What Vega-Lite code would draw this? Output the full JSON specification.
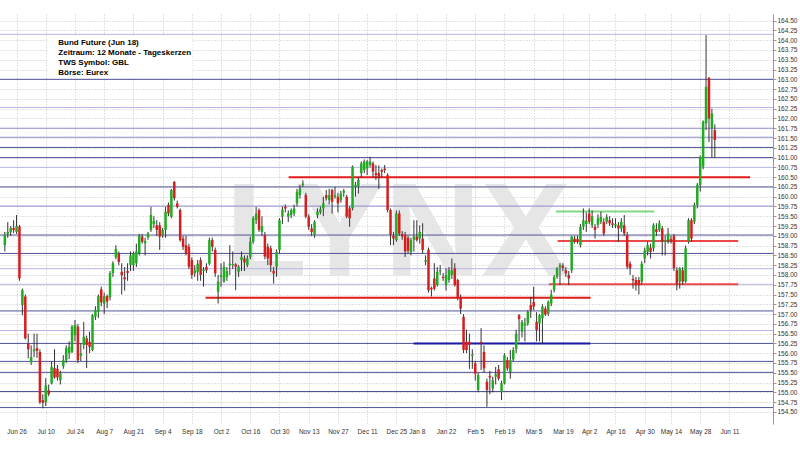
{
  "$schema": "https://vega.github.io/schema/vega-lite/v6.json",
  "usermeta": {"embedOptions": {"actions": false}},
  "autosize": {"type": "none"},
  "width": 773,
  "height": 410,
  "padding": {"left": 0, "top": 14, "right": 27, "bottom": 26},
  "background": "#ffffff",
  "config": {
    "view": {"stroke": null},
    "axis": {"labelFont": "Liberation Sans", "labelFontSize": 6.5, "labelColor": "#333333", "gridColor": "#c4c4c4", "gridDash": [1, 2], "gridWidth": 1, "title": null, "labelOverlap": false, "labelSeparation": 0}
  },
  "resolve": {"scale": {"color": "independent"}},
  "datasets": {
    "candles": [
      {"i":-4,"o":158.76,"h":159.1,"l":158.6,"c":159.02},
      {"i":-3,"o":159.05,"h":159.35,"l":158.95,"c":159.1},
      {"i":-2,"o":159.1,"h":159.25,"l":159.0,"c":159.2},
      {"i":-1,"o":159.2,"h":159.4,"l":159.07,"c":159.15},
      {"i":0,"o":159.1,"h":159.53,"l":159.05,"c":159.25},
      {"i":1,"o":159.24,"h":159.28,"l":157.85,"c":157.91},
      {"i":2,"o":157.23,"h":157.65,"l":156.97,"c":157.61},
      {"i":3,"o":157.45,"h":157.5,"l":156.35,"c":156.38},
      {"i":4,"o":156.25,"h":156.5,"l":155.87,"c":156.1},
      {"i":5,"o":155.77,"h":156.2,"l":155.7,"c":155.9},
      {"i":6,"o":156.05,"h":156.5,"l":155.9,"c":156.1},
      {"i":7,"o":156.13,"h":156.5,"l":155.88,"c":156.06},
      {"i":8,"o":156.03,"h":156.1,"l":154.7,"c":154.75},
      {"i":9,"o":154.8,"h":154.95,"l":154.59,"c":154.73},
      {"i":10,"o":154.75,"h":155.36,"l":154.65,"c":155.18},
      {"i":11,"o":155.05,"h":155.2,"l":154.9,"c":154.95},
      {"i":12,"o":155.23,"h":155.8,"l":155.2,"c":155.65},
      {"i":13,"o":155.62,"h":156.1,"l":155.35,"c":155.38},
      {"i":14,"o":155.6,"h":155.7,"l":155.3,"c":155.38},
      {"i":15,"o":155.31,"h":155.55,"l":155.2,"c":155.48},
      {"i":16,"o":155.67,"h":155.95,"l":155.6,"c":155.82},
      {"i":17,"o":155.82,"h":156.2,"l":155.75,"c":156.13},
      {"i":18,"o":156.0,"h":156.3,"l":155.85,"c":156.16},
      {"i":19,"o":156.03,"h":156.72,"l":156.0,"c":156.68},
      {"i":20,"o":156.46,"h":156.85,"l":156.3,"c":156.72},
      {"i":21,"o":156.68,"h":156.75,"l":155.75,"c":155.82},
      {"i":22,"o":155.93,"h":156.25,"l":155.8,"c":156.0},
      {"i":23,"o":156.21,"h":156.8,"l":156.1,"c":156.42},
      {"i":24,"o":156.38,"h":156.45,"l":155.62,"c":156.21},
      {"i":25,"o":156.29,"h":156.55,"l":156.0,"c":156.16},
      {"i":26,"o":156.08,"h":157.0,"l":156.05,"c":156.97},
      {"i":27,"o":156.93,"h":157.2,"l":156.85,"c":157.1},
      {"i":28,"o":157.06,"h":157.5,"l":156.9,"c":157.46},
      {"i":29,"o":157.63,"h":157.7,"l":157.2,"c":157.3},
      {"i":30,"o":157.27,"h":157.55,"l":157.0,"c":157.46},
      {"i":31,"o":157.46,"h":157.5,"l":157.15,"c":157.32},
      {"i":32,"o":157.43,"h":158.1,"l":157.35,"c":158.05},
      {"i":33,"o":158.05,"h":158.35,"l":157.95,"c":158.3},
      {"i":34,"o":158.45,"h":158.76,"l":158.4,"c":158.66},
      {"i":35,"o":158.55,"h":158.6,"l":158.25,"c":158.33},
      {"i":36,"o":158.08,"h":158.3,"l":157.5,"c":157.99},
      {"i":37,"o":157.94,"h":158.2,"l":157.6,"c":157.89},
      {"i":38,"o":158.1,"h":158.3,"l":157.85,"c":158.05},
      {"i":39,"o":158.25,"h":158.6,"l":158.1,"c":158.5},
      {"i":40,"o":158.25,"h":158.6,"l":158.1,"c":158.55},
      {"i":41,"o":158.3,"h":158.8,"l":158.2,"c":158.6},
      {"i":42,"o":158.55,"h":159.05,"l":158.5,"c":159.0},
      {"i":43,"o":158.98,"h":159.05,"l":158.8,"c":158.85},
      {"i":44,"o":158.81,"h":158.95,"l":158.5,"c":158.87},
      {"i":45,"o":158.96,"h":159.1,"l":158.9,"c":159.06},
      {"i":46,"o":159.15,"h":159.74,"l":159.1,"c":159.53},
      {"i":47,"o":159.3,"h":159.5,"l":159.2,"c":159.38},
      {"i":48,"o":159.27,"h":159.4,"l":159.0,"c":159.15},
      {"i":49,"o":159.27,"h":159.35,"l":158.64,"c":158.98},
      {"i":50,"o":159.02,"h":159.2,"l":158.95,"c":159.15},
      {"i":51,"o":159.15,"h":159.74,"l":158.95,"c":159.62},
      {"i":52,"o":159.79,"h":159.85,"l":159.5,"c":159.57},
      {"i":53,"o":159.49,"h":160.2,"l":159.45,"c":160.17},
      {"i":54,"o":160.38,"h":160.4,"l":159.9,"c":159.96},
      {"i":55,"o":159.83,"h":159.9,"l":159.7,"c":159.74},
      {"i":56,"o":159.66,"h":159.7,"l":158.85,"c":158.89},
      {"i":57,"o":158.93,"h":159.0,"l":158.64,"c":158.72},
      {"i":58,"o":158.76,"h":159.0,"l":158.5,"c":158.55},
      {"i":59,"o":158.72,"h":158.8,"l":158.15,"c":158.21},
      {"i":60,"o":158.38,"h":158.45,"l":157.9,"c":158.0},
      {"i":61,"o":158.04,"h":158.25,"l":157.95,"c":158.12},
      {"i":62,"o":158.08,"h":158.38,"l":157.85,"c":158.29},
      {"i":63,"o":158.38,"h":158.45,"l":157.85,"c":158.0},
      {"i":64,"o":158.1,"h":158.2,"l":157.7,"c":158.14},
      {"i":65,"o":158.21,"h":158.3,"l":158.05,"c":158.12},
      {"i":66,"o":158.29,"h":158.95,"l":158.25,"c":158.89},
      {"i":67,"o":158.89,"h":158.95,"l":158.6,"c":158.72},
      {"i":68,"o":158.64,"h":158.7,"l":157.95,"c":158.04},
      {"i":69,"o":157.57,"h":158.0,"l":157.27,"c":157.83},
      {"i":70,"o":157.95,"h":158.3,"l":157.7,"c":158.0},
      {"i":71,"o":157.83,"h":158.34,"l":157.8,"c":158.21},
      {"i":72,"o":157.95,"h":158.2,"l":157.85,"c":158.1},
      {"i":73,"o":158.25,"h":158.76,"l":158.0,"c":158.29},
      {"i":74,"o":158.25,"h":158.6,"l":158.15,"c":158.28},
      {"i":75,"o":158.27,"h":158.3,"l":157.61,"c":158.21},
      {"i":76,"o":158.08,"h":158.25,"l":157.95,"c":158.21},
      {"i":77,"o":158.38,"h":158.6,"l":158.1,"c":158.46},
      {"i":78,"o":158.42,"h":158.5,"l":158.1,"c":158.32},
      {"i":79,"o":158.25,"h":158.5,"l":158.2,"c":158.42},
      {"i":80,"o":158.46,"h":158.98,"l":158.4,"c":158.85},
      {"i":81,"o":158.85,"h":159.5,"l":158.8,"c":159.45},
      {"i":82,"o":159.4,"h":159.74,"l":159.3,"c":159.57},
      {"i":83,"o":159.66,"h":159.7,"l":159.1,"c":159.15},
      {"i":84,"o":159.1,"h":159.5,"l":159.0,"c":159.25},
      {"i":85,"o":159.02,"h":159.1,"l":158.4,"c":158.47},
      {"i":86,"o":158.72,"h":158.8,"l":158.25,"c":158.42},
      {"i":87,"o":158.68,"h":158.75,"l":158.08,"c":158.25},
      {"i":88,"o":158.1,"h":158.2,"l":157.78,"c":158.04},
      {"i":89,"o":158.21,"h":158.65,"l":157.95,"c":158.59},
      {"i":90,"o":158.64,"h":159.45,"l":158.55,"c":159.4},
      {"i":91,"o":159.49,"h":159.75,"l":159.3,"c":159.67},
      {"i":92,"o":159.74,"h":159.8,"l":159.6,"c":159.7},
      {"i":93,"o":159.49,"h":159.65,"l":159.35,"c":159.57},
      {"i":94,"o":159.53,"h":159.7,"l":159.45,"c":159.66},
      {"i":95,"o":159.57,"h":159.8,"l":159.5,"c":159.7},
      {"i":96,"o":159.83,"h":160.2,"l":159.75,"c":160.13},
      {"i":97,"o":160.04,"h":160.3,"l":159.95,"c":160.21},
      {"i":98,"o":160.3,"h":160.42,"l":160.25,"c":160.34},
      {"i":99,"o":160.04,"h":160.1,"l":159.45,"c":159.49},
      {"i":100,"o":159.49,"h":159.55,"l":159.15,"c":159.23},
      {"i":101,"o":159.19,"h":159.3,"l":159.0,"c":159.1},
      {"i":102,"o":159.02,"h":159.4,"l":158.95,"c":159.36},
      {"i":103,"o":159.53,"h":159.7,"l":159.45,"c":159.62},
      {"i":104,"o":159.6,"h":159.75,"l":159.55,"c":159.68},
      {"i":105,"o":159.7,"h":160.0,"l":159.5,"c":159.83},
      {"i":106,"o":160.04,"h":160.17,"l":159.9,"c":159.96},
      {"i":107,"o":159.91,"h":160.2,"l":159.8,"c":160.04},
      {"i":108,"o":160.17,"h":160.2,"l":159.57,"c":159.87},
      {"i":109,"o":160.0,"h":160.25,"l":159.95,"c":160.04},
      {"i":110,"o":160.0,"h":160.1,"l":159.6,"c":159.83},
      {"i":111,"o":159.91,"h":160.15,"l":159.85,"c":160.08},
      {"i":112,"o":160.1,"h":160.2,"l":160.0,"c":160.15},
      {"i":113,"o":160.0,"h":160.05,"l":159.45,"c":159.49},
      {"i":114,"o":159.7,"h":159.75,"l":159.23,"c":159.45},
      {"i":115,"o":159.7,"h":160.8,"l":159.65,"c":160.77},
      {"i":116,"o":160.26,"h":160.38,"l":160.0,"c":160.3},
      {"i":117,"o":160.26,"h":160.5,"l":160.08,"c":160.43},
      {"i":118,"o":160.6,"h":160.9,"l":160.5,"c":160.85},
      {"i":119,"o":160.68,"h":160.95,"l":160.6,"c":160.9},
      {"i":120,"o":160.72,"h":160.94,"l":160.55,"c":160.9},
      {"i":121,"o":160.81,"h":161.02,"l":160.75,"c":160.9},
      {"i":122,"o":160.85,"h":160.9,"l":160.5,"c":160.64},
      {"i":123,"o":160.6,"h":160.81,"l":160.43,"c":160.55},
      {"i":124,"o":160.6,"h":160.8,"l":160.2,"c":160.5},
      {"i":125,"o":160.68,"h":160.72,"l":160.5,"c":160.64},
      {"i":126,"o":160.72,"h":160.81,"l":160.6,"c":160.68},
      {"i":127,"o":160.55,"h":160.6,"l":159.6,"c":159.66},
      {"i":128,"o":159.66,"h":159.7,"l":158.76,"c":159.02},
      {"i":129,"o":159.0,"h":159.1,"l":158.76,"c":158.93},
      {"i":130,"o":158.89,"h":159.65,"l":158.85,"c":159.57},
      {"i":131,"o":159.57,"h":159.65,"l":159.0,"c":159.06},
      {"i":132,"o":159.05,"h":159.12,"l":158.9,"c":158.98},
      {"i":133,"o":159.02,"h":159.1,"l":158.46,"c":158.6},
      {"i":134,"o":158.95,"h":159.0,"l":158.55,"c":158.62},
      {"i":135,"o":158.59,"h":158.95,"l":158.5,"c":158.89},
      {"i":136,"o":158.9,"h":159.4,"l":158.6,"c":158.98},
      {"i":137,"o":158.98,"h":159.4,"l":158.85,"c":158.89},
      {"i":138,"o":158.93,"h":159.27,"l":158.8,"c":159.1},
      {"i":139,"o":158.93,"h":159.32,"l":158.55,"c":158.64},
      {"i":140,"o":158.34,"h":158.5,"l":158.25,"c":158.38},
      {"i":141,"o":158.64,"h":158.7,"l":157.55,"c":157.61},
      {"i":142,"o":157.67,"h":157.7,"l":157.45,"c":157.63},
      {"i":143,"o":157.91,"h":158.3,"l":157.6,"c":157.65},
      {"i":144,"o":157.74,"h":158.2,"l":157.7,"c":158.08},
      {"i":145,"o":158.09,"h":158.25,"l":158.0,"c":158.12},
      {"i":146,"o":157.95,"h":158.05,"l":157.85,"c":157.92},
      {"i":147,"o":157.74,"h":158.17,"l":157.6,"c":158.0},
      {"i":148,"o":157.87,"h":158.2,"l":157.8,"c":158.12},
      {"i":149,"o":158.0,"h":158.42,"l":157.9,"c":158.12},
      {"i":150,"o":158.17,"h":158.3,"l":157.7,"c":157.74},
      {"i":151,"o":157.87,"h":157.9,"l":157.35,"c":157.4},
      {"i":152,"o":157.44,"h":157.5,"l":157.0,"c":157.14},
      {"i":153,"o":156.93,"h":157.0,"l":156.0,"c":156.08},
      {"i":154,"o":156.29,"h":156.6,"l":156.0,"c":156.08},
      {"i":155,"o":156.29,"h":156.5,"l":155.6,"c":156.22},
      {"i":156,"o":155.93,"h":156.1,"l":155.6,"c":155.97},
      {"i":157,"o":155.74,"h":155.8,"l":155.3,"c":155.48},
      {"i":158,"o":155.06,"h":155.5,"l":155.0,"c":155.44},
      {"i":159,"o":156.29,"h":156.64,"l":155.57,"c":156.25},
      {"i":160,"o":156.03,"h":156.2,"l":155.5,"c":155.61},
      {"i":161,"o":155.27,"h":155.35,"l":154.63,"c":155.06},
      {"i":162,"o":155.42,"h":155.55,"l":154.95,"c":155.38},
      {"i":163,"o":155.1,"h":155.4,"l":155.0,"c":155.31},
      {"i":164,"o":155.4,"h":155.65,"l":155.2,"c":155.46},
      {"i":165,"o":155.59,"h":155.7,"l":155.3,"c":155.35},
      {"i":166,"o":155.01,"h":155.3,"l":154.8,"c":155.23},
      {"i":167,"o":155.23,"h":156.0,"l":155.2,"c":155.95},
      {"i":168,"o":155.82,"h":155.9,"l":155.55,"c":155.61},
      {"i":169,"o":155.52,"h":156.08,"l":155.35,"c":155.82},
      {"i":170,"o":155.84,"h":156.15,"l":155.8,"c":156.08},
      {"i":171,"o":156.1,"h":156.6,"l":156.0,"c":156.5},
      {"i":172,"o":156.97,"h":157.0,"l":156.3,"c":156.87},
      {"i":173,"o":156.55,"h":156.85,"l":156.4,"c":156.8},
      {"i":174,"o":156.7,"h":156.9,"l":156.3,"c":156.76},
      {"i":175,"o":156.76,"h":157.1,"l":156.7,"c":157.06},
      {"i":176,"o":157.23,"h":157.44,"l":156.9,"c":157.1},
      {"i":177,"o":157.31,"h":157.7,"l":157.1,"c":157.19},
      {"i":178,"o":156.8,"h":157.05,"l":156.3,"c":156.59},
      {"i":179,"o":156.76,"h":157.0,"l":156.3,"c":156.97},
      {"i":180,"o":156.89,"h":157.25,"l":156.25,"c":157.19},
      {"i":181,"o":157.14,"h":157.2,"l":156.95,"c":156.99},
      {"i":182,"o":157.01,"h":157.35,"l":156.95,"c":157.31},
      {"i":183,"o":157.27,"h":157.62,"l":157.2,"c":157.5},
      {"i":184,"o":157.61,"h":158.0,"l":157.55,"c":157.95},
      {"i":185,"o":157.95,"h":158.2,"l":157.9,"c":158.17},
      {"i":186,"o":158.2,"h":158.3,"l":157.74,"c":158.25},
      {"i":187,"o":158.24,"h":158.3,"l":158.1,"c":158.18},
      {"i":188,"o":158.12,"h":158.2,"l":157.95,"c":158.04},
      {"i":189,"o":158.0,"h":158.1,"l":157.74,"c":157.91},
      {"i":190,"o":158.12,"h":159.0,"l":158.05,"c":158.98},
      {"i":191,"o":158.93,"h":159.0,"l":158.8,"c":158.85},
      {"i":192,"o":158.92,"h":159.0,"l":158.8,"c":158.88},
      {"i":193,"o":158.76,"h":159.3,"l":158.7,"c":159.23},
      {"i":194,"o":159.23,"h":159.7,"l":159.15,"c":159.4},
      {"i":195,"o":159.3,"h":159.6,"l":159.1,"c":159.38},
      {"i":196,"o":159.57,"h":159.7,"l":159.3,"c":159.36},
      {"i":197,"o":159.27,"h":159.65,"l":159.2,"c":159.5},
      {"i":198,"o":159.23,"h":159.3,"l":158.93,"c":159.15},
      {"i":199,"o":159.28,"h":159.55,"l":159.2,"c":159.45},
      {"i":200,"o":159.36,"h":159.62,"l":159.3,"c":159.48},
      {"i":201,"o":159.36,"h":159.45,"l":159.0,"c":159.06},
      {"i":202,"o":159.36,"h":159.55,"l":159.3,"c":159.48},
      {"i":203,"o":159.4,"h":159.5,"l":159.25,"c":159.32},
      {"i":204,"o":159.32,"h":159.45,"l":159.2,"c":159.28},
      {"i":205,"o":159.26,"h":159.45,"l":159.2,"c":159.3},
      {"i":206,"o":159.27,"h":159.35,"l":158.85,"c":159.19},
      {"i":207,"o":159.19,"h":159.45,"l":159.1,"c":159.36},
      {"i":208,"o":159.27,"h":159.53,"l":159.0,"c":159.06},
      {"i":209,"o":159.02,"h":159.1,"l":158.15,"c":158.21},
      {"i":210,"o":158.29,"h":158.35,"l":158.0,"c":158.17},
      {"i":211,"o":157.9,"h":158.0,"l":157.65,"c":157.86},
      {"i":212,"o":157.87,"h":157.95,"l":157.6,"c":157.74},
      {"i":213,"o":157.87,"h":157.95,"l":157.5,"c":157.74},
      {"i":214,"o":157.83,"h":158.35,"l":157.75,"c":158.29},
      {"i":215,"o":158.42,"h":158.7,"l":158.3,"c":158.63},
      {"i":216,"o":158.59,"h":158.85,"l":158.5,"c":158.76},
      {"i":217,"o":158.7,"h":158.8,"l":158.42,"c":158.59},
      {"i":218,"o":158.68,"h":159.32,"l":158.6,"c":159.28},
      {"i":219,"o":159.17,"h":159.32,"l":159.0,"c":159.1},
      {"i":220,"o":159.15,"h":159.4,"l":159.1,"c":159.32},
      {"i":221,"o":159.19,"h":159.25,"l":158.5,"c":158.87},
      {"i":222,"o":158.85,"h":159.0,"l":158.5,"c":158.89},
      {"i":223,"o":158.89,"h":159.2,"l":158.8,"c":159.06},
      {"i":224,"o":158.92,"h":159.0,"l":158.8,"c":158.88},
      {"i":225,"o":159.0,"h":159.05,"l":158.1,"c":158.17},
      {"i":226,"o":158.12,"h":158.2,"l":157.61,"c":157.78},
      {"i":227,"o":157.83,"h":158.2,"l":157.65,"c":158.17},
      {"i":228,"o":158.12,"h":158.2,"l":157.75,"c":157.83},
      {"i":229,"o":157.83,"h":158.75,"l":157.8,"c":158.68},
      {"i":230,"o":158.85,"h":159.45,"l":158.8,"c":159.4},
      {"i":231,"o":159.4,"h":159.45,"l":158.85,"c":158.93},
      {"i":232,"o":159.36,"h":159.85,"l":159.3,"c":159.79},
      {"i":233,"o":159.79,"h":160.35,"l":159.7,"c":160.3},
      {"i":234,"o":160.3,"h":161.05,"l":160.13,"c":161.02},
      {"i":235,"o":160.77,"h":161.95,"l":160.7,"c":161.92},
      {"i":236,"o":161.88,"h":164.13,"l":161.7,"c":162.81},
      {"i":237,"o":163.04,"h":163.06,"l":161.4,"c":162.0},
      {"i":238,"o":161.75,"h":162.25,"l":161.0,"c":162.13},
      {"i":239,"o":161.7,"h":161.85,"l":161.0,"c":161.45}
    ],
    "levels": [
      {"level":164.15,"tone":"hell"},
      {"level":163.0,"tone":"dunkel"},
      {"level":162.28,"tone":"hell"},
      {"level":161.75,"tone":"mittel"},
      {"level":161.52,"tone":"mittel"},
      {"level":161.26,"tone":"dunkel"},
      {"level":161.0,"tone":"dunkel"},
      {"level":160.75,"tone":"hell"},
      {"level":160.25,"tone":"dunkel"},
      {"level":159.76,"tone":"mittel"},
      {"level":159.02,"tone":"dunkel"},
      {"level":158.55,"tone":"dunkel"},
      {"level":158.16,"tone":"hell"},
      {"level":157.76,"tone":"hell"},
      {"level":157.08,"tone":"dunkel"},
      {"level":156.58,"tone":"hell"},
      {"level":156.25,"tone":"dunkel"},
      {"level":155.79,"tone":"dunkel"},
      {"level":155.51,"tone":"dunkel"},
      {"level":155.02,"tone":"dunkel"},
      {"level":154.61,"tone":"dunkel"}
    ],
    "segs": [
      {"price":160.5,"from":93.1,"to":251.1,"farbe":"rot"},
      {"price":157.42,"from":64.7,"to":196.5,"farbe":"rot"},
      {"price":158.87,"from":185.2,"to":247.0,"farbe":"hellrot"},
      {"price":157.76,"from":182.2,"to":247.0,"farbe":"hellrot"},
      {"price":159.62,"from":184.6,"to":218.3,"farbe":"gruen"},
      {"price":156.25,"from":135.9,"to":196.4,"farbe":"blau"}
    ],
    "wasserzeichen": [{"marke": "LYNX", "tag": 130.5, "kurs": 157.97}],
    "info": [{"tag": 14.3, "kurs": 164.02, "zeilen": ["Bund Future (Jun 18)", "Zeitraum: 12 Monate - Tageskerzen", "TWS Symbol: GBL", "Börse: Eurex"]}],
    "kasten": [{"von": 10.6, "bis": 60.2, "oben": 164.13, "unten": 163.03}]
  },
  "layer": [
    {
      "data": {"name": "candles"},
      "mark": {"type": "rule", "color": "#333333", "strokeWidth": 1, "clip": true, "opacity": 0},
      "encoding": {
        "x": {"field": "i", "type": "quantitative", "scale": {"domain": [-3.95, 257.2], "nice": false, "zero": false},
          "axis": {"orient": "bottom", "tickCount": 200, "values": [0,10,20,30,40,50,60,70,80,90,100,110,120,130,137,147,157,167,177,187,196,205,215,224,234,244],
            "labelExpr": "['Jun 26','Jul 10','Jul 24','Aug 7','Aug 21','Sep 4','Sep 18','Oct 2','Oct 16','Oct 30','Nov 13','Nov 27','Dec 11','Dec 25','Jan 8','Jan 22','Feb 5','Feb 19','Mar 5','Mar 19','Apr 2','Apr 16','Apr 30','May 14','May 28','Jun 11'][indexof([0,10,20,30,40,50,60,70,80,90,100,110,120,130,137,147,157,167,177,187,196,205,215,224,234,244], datum.value)]",
            "domain": false, "ticks": false, "labelPadding": 4, "grid": true, "labelFlush": false, "labelOverlap": false, "labelBound": false, "labelSeparation": 0}},
        "y": {"field": "l", "type": "quantitative", "scale": {"domain": [154.19, 164.67], "nice": false, "zero": false},
          "axis": {"orient": "right", "tickCount": 200, "values": [154.5,154.75,155,155.25,155.5,155.75,156,156.25,156.5,156.75,157,157.25,157.5,157.75,158,158.25,158.5,158.75,159,159.25,159.5,159.75,160,160.25,160.5,160.75,161,161.25,161.5,161.75,162,162.25,162.5,162.75,163,163.25,163.5,163.75,164,164.25,164.5],
            "format": ".2f", "domain": true, "domainColor": "#999999", "ticks": true, "tickSize": 3, "tickColor": "#999999", "labelPadding": 1, "grid": true, "labelOverlap": false, "labelBound": false, "labelSeparation": 0}},
        "y2": {"field": "h"}
      }
    },
    {
      "data": {"name": "wasserzeichen"},
      "mark": {"type": "text", "font": "Liberation Sans", "fontWeight": "bold", "fontSize": 134, "color": "#e6e6e6", "align": "center", "baseline": "alphabetic"},
      "encoding": {
        "x": {"field": "tag", "type": "quantitative", "scale": {"domain": [-3.95, 257.2], "nice": false, "zero": false}},
        "y": {"field": "kurs", "type": "quantitative", "scale": {"domain": [154.19, 164.67], "nice": false, "zero": false}},
        "text": {"field": "marke"}
      }
    },
    {
      "data": {"name": "kasten"},
      "mark": {"type": "rect", "color": "#ffffff"},
      "encoding": {
        "x": {"field": "von", "type": "quantitative", "scale": {"domain": [-3.95, 257.2], "nice": false, "zero": false}},
        "x2": {"field": "bis"},
        "y": {"field": "oben", "type": "quantitative", "scale": {"domain": [154.19, 164.67], "nice": false, "zero": false}},
        "y2": {"field": "unten"}
      }
    },
    {
      "data": {"name": "info"},
      "mark": {"type": "text", "font": "Liberation Sans", "fontWeight": "bold", "fontSize": 8, "color": "#000000", "align": "left", "baseline": "top", "lineHeight": 9.7},
      "encoding": {
        "x": {"field": "tag", "type": "quantitative", "scale": {"domain": [-3.95, 257.2], "nice": false, "zero": false}},
        "y": {"field": "kurs", "type": "quantitative", "scale": {"domain": [154.19, 164.67], "nice": false, "zero": false}},
        "text": {"field": "zeilen"}
      }
    },
    {
      "data": {"name": "levels"},
      "mark": {"type": "rule", "strokeWidth": 1},
      "encoding": {
        "y": {"field": "level", "type": "quantitative", "scale": {"domain": [154.19, 164.67], "nice": false, "zero": false}},
        "color": {"field": "tone", "type": "nominal", "scale": {"domain": ["dunkel", "mittel", "hell"], "range": ["#50509c", "#8c8ccf", "#b6b6ea"]}, "legend": null}
      }
    },
    {
      "data": {"name": "segs"},
      "mark": {"type": "rule", "strokeWidth": 2},
      "encoding": {
        "x": {"field": "from", "type": "quantitative", "scale": {"domain": [-3.95, 257.2], "nice": false, "zero": false}},
        "x2": {"field": "to"},
        "y": {"field": "price", "type": "quantitative", "scale": {"domain": [154.19, 164.67], "nice": false, "zero": false}},
        "color": {"field": "farbe", "type": "nominal", "scale": {"domain": ["rot", "hellrot", "gruen", "blau"], "range": ["#e31b1b", "#ec4a4a", "#80d880", "#1a1aa6"]}, "legend": null}
      }
    },
    {
      "data": {"name": "candles"},
      "mark": {"type": "rule", "color": "#333333", "strokeWidth": 1, "clip": true},
      "encoding": {
        "x": {"field": "i", "type": "quantitative", "scale": {"domain": [-3.95, 257.2], "nice": false, "zero": false}},
        "y": {"field": "l", "type": "quantitative", "scale": {"domain": [154.19, 164.67], "nice": false, "zero": false}},
        "y2": {"field": "h"}
      }
    },
    {
      "data": {"name": "candles"},
      "mark": {"type": "bar", "width": 2.5, "orient": "vertical", "clip": true},
      "encoding": {
        "x": {"field": "i", "type": "quantitative", "scale": {"domain": [-3.95, 257.2], "nice": false, "zero": false}},
        "y": {"field": "o", "type": "quantitative", "scale": {"domain": [154.19, 164.67], "nice": false, "zero": false}},
        "y2": {"field": "c"},
        "color": {"condition": {"test": "datum.c >= datum.o", "value": "#22aa22"}, "value": "#d61e1e"}
      }
    }
  ]
}
